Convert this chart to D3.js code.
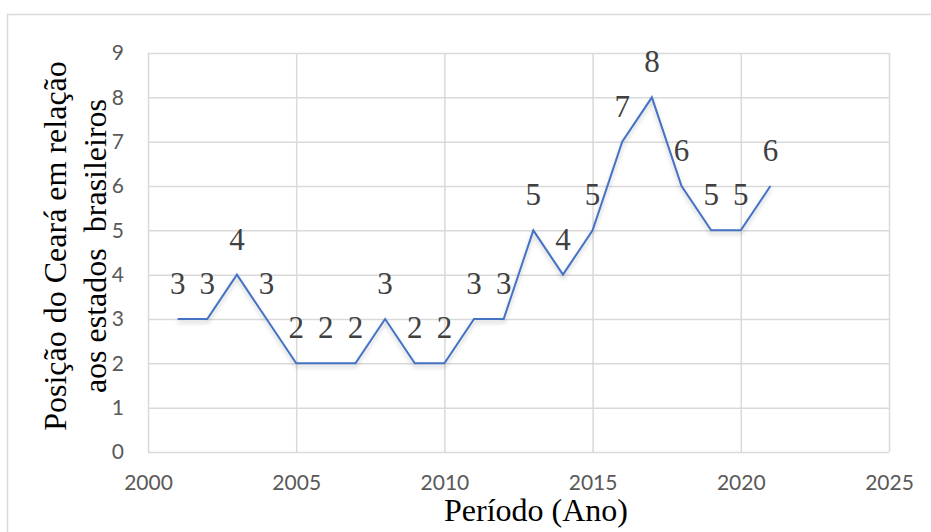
<!DOCTYPE html>
<html>
<head>
<meta charset="utf-8">
<script src="https://cdn.jsdelivr.net/npm/d3@7/dist/d3.min.js"></script>
<style>
  html, body { margin: 0; padding: 0; background: #fff; }
  svg { display: block; }
</style>
</head>
<body>
<svg id="chart" width="931" height="532"></svg>
<script>
// Ranking of Ceará among Brazilian states, by year
const years = [2001, 2002, 2003, 2004, 2005, 2006, 2007, 2008, 2009, 2010, 2011,
               2012, 2013, 2014, 2015, 2016, 2017, 2018, 2019, 2020, 2021];
const positions = [3, 3, 4, 3, 2, 2, 2, 3, 2, 2, 3, 3, 5, 4, 5, 7, 8, 6, 5, 5, 6];
const xTicks = [2000, 2005, 2010, 2015, 2020, 2025];
const yTicks = [0, 1, 2, 3, 4, 5, 6, 7, 8, 9];
const xTitle = "Período (Ano)";
const yTitleLines = ["Posição do Ceará em relação", "aos estados  brasileiros"];

const svg = d3.select("#chart");
const W = 931, H = 532;
const plot = { left: 148, right: 889, top: 53, bottom: 452 };

const x = d3.scaleLinear().domain([2000, 2025]).range([plot.left, plot.right]);
const y = d3.scaleLinear().domain([0, 9]).range([plot.bottom, plot.top]);

const grid = "#d9d9d9";
const tickColor = "#595959";
const tickFont = "Lato, 'Open Sans', sans-serif";
const serif = "'Liberation Serif', 'Times New Roman', serif";

// Outer chart frame
svg.append("rect")
  .attr("x", 7.5).attr("y", 14.5)
  .attr("width", W + 10).attr("height", H + 10)
  .attr("fill", "#fff").attr("stroke", grid).attr("stroke-width", 1.5);

const defs = svg.append("defs");
const shadow = defs.append("filter").attr("id", "lineShadow")
  .attr("x", "-10%").attr("y", "-10%").attr("width", "120%").attr("height", "130%");
shadow.append("feDropShadow")
  .attr("dx", 0).attr("dy", 3).attr("stdDeviation", 2)
  .attr("flood-color", "#000").attr("flood-opacity", 0.22);

// Horizontal gridlines
const yAxis = d3.axisLeft(y).tickValues(yTicks).tickSize(-(plot.right - plot.left))
  .tickPadding(24).tickFormat(d3.format("d"));
const gy = svg.append("g").attr("transform", `translate(${plot.left},0)`).call(yAxis);
gy.select(".domain").remove();
gy.selectAll(".tick line").attr("stroke", grid).attr("stroke-width", 1.5);
gy.selectAll(".tick text").attr("fill", tickColor)
  .style("font-family", tickFont).style("font-size", "21px");

// Vertical gridlines
const xAxis = d3.axisBottom(x).tickValues(xTicks).tickSize(-(plot.bottom - plot.top))
  .tickPadding(23).tickFormat(d3.format("d"));
const gx = svg.append("g").attr("transform", `translate(0,${plot.bottom})`).call(xAxis);
gx.select(".domain").remove();
gx.selectAll(".tick line").attr("stroke", grid).attr("stroke-width", 1.5);
gx.selectAll(".tick text").attr("fill", tickColor)
  .style("font-family", tickFont).style("font-size", "21px");

// Series line
const data = years.map((yr, i) => ({ year: yr, value: positions[i] }));
const line = d3.line().x(d => x(d.year)).y(d => y(d.value));
svg.append("path")
  .datum(data)
  .attr("d", line)
  .attr("fill", "none")
  .attr("stroke", "#4472c4")
  .attr("stroke-width", 2)
  .attr("stroke-linejoin", "miter")
  .attr("filter", "url(#lineShadow)");

// Value labels above each point
svg.append("g").selectAll("text")
  .data(data)
  .join("text")
  .attr("x", d => x(d.year))
  .attr("y", d => y(d.value) - 25)
  .attr("text-anchor", "middle")
  .attr("fill", "#404040")
  .style("font-family", serif)
  .style("font-size", "31px")
  .text(d => d.value);

// Axis titles
svg.append("text")
  .attr("x", 536).attr("y", 521)
  .attr("text-anchor", "middle")
  .attr("fill", "#000")
  .style("font-family", serif).style("font-size", "32px")
  .text(xTitle);

const yt = svg.append("text")
  .attr("transform", "translate(0,246) rotate(-90)")
  .attr("text-anchor", "middle")
  .attr("fill", "#000")
  .style("font-family", serif).style("font-size", "32px")
  .style("white-space", "pre");
yt.append("tspan").attr("x", 0).attr("y", 66).text(yTitleLines[0]);
yt.append("tspan").attr("x", 0).attr("y", 106).text(yTitleLines[1]);
</script>
</body>
</html>
